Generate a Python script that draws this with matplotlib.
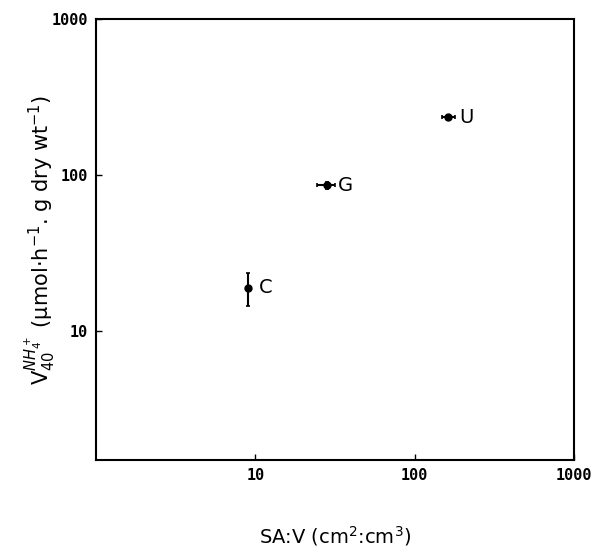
import matplotlib.pyplot as plt

labels = ["C", "G", "U"]
sa_v = [9.0, 28.0, 162.0]
sa_v_lo = [9.0, 24.5, 148.0]
sa_v_hi = [9.0, 31.5, 178.0]
uptake = [19.0, 86.0, 235.0]
uptake_lo = [14.5, 82.0, 226.0]
uptake_hi = [23.5, 90.0, 244.0]


def main():
    fig = plt.figure(figsize=(5.97, 5.52), dpi=100)
    ax = fig.add_axes([96 / 597, 92 / 552, 478 / 597, 441 / 552])

    xerr = [[v - lo for v, lo in zip(sa_v, sa_v_lo)], [hi - v for v, hi in zip(sa_v, sa_v_hi)]]
    yerr = [[v - lo for v, lo in zip(uptake, uptake_lo)], [hi - v for v, hi in zip(uptake, uptake_hi)]]
    ax.errorbar(sa_v, uptake, xerr=xerr, yerr=yerr, fmt="o", color="black",
                markersize=5, elinewidth=1.5, capsize=1.5, capthick=1.2)
    for x, y, lab in zip(sa_v, uptake, labels):
        ax.annotate(lab, (x, y), xytext=(8, 0), textcoords="offset points",
                    va="center", ha="left", fontsize=14)

    ax.set_xscale("log")
    ax.set_yscale("log")
    ax.set_xlim(1, 1000)
    ax.set_ylim(1.5, 1000)
    ax.set_xticks([10, 100, 1000])
    ax.set_xticklabels(["10", "100", "1000"])
    ax.set_yticks([10, 100, 1000])
    ax.set_yticklabels(["10", "100", "1000"])
    ax.minorticks_off()
    ax.tick_params(direction="in", length=4, width=1, labelsize=11, pad=6)
    for lbl in ax.get_xticklabels() + ax.get_yticklabels():
        lbl.set_family("DejaVu Sans Mono")
        lbl.set_fontweight("bold")
    for s in ax.spines.values():
        s.set_linewidth(1.5)

    ax.set_xlabel("SA:V (cm$^2$:cm$^3$)", fontsize=14)
    ax.set_ylabel("V$_{40}^{NH_4^+}$ (μmol·h$^{-1}$. g dry wt$^{-1}$)", fontsize=15)
    ax.xaxis.set_label_coords(0.5, -0.145)
    ax.yaxis.set_label_coords(-0.08, 0.5)

    fig.savefig("out.png", dpi=100)


if __name__ == "__main__":
    main()
